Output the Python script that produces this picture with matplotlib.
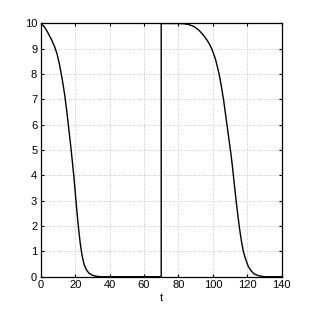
import matplotlib
matplotlib.use("Agg")
import matplotlib.pyplot as plt

# first decay
t_first = [0, 2, 4, 6, 8, 9.5, 11, 12.5, 14, 15.2, 16.3, 17.3, 18.3, 19.2, 20.1,
           21, 22, 23, 24, 25.2, 26.5, 28, 30, 32, 34.5, 70]
v_first = [10, 9.88, 9.66, 9.4, 9.1, 8.8, 8.35, 7.8, 7.15, 6.5, 5.85, 5.25, 4.6, 4.0, 3.3,
           2.6, 1.9, 1.3, 0.85, 0.48, 0.28, 0.14, 0.06, 0.02, 0, 0]

# second decay after the reset at t = 70
t_second = [70, 80, 83, 86, 89, 92, 95, 97.5, 99.5, 101.5, 103.5, 105, 106.3, 107.5,
            108.5, 109.5, 110.5, 111.3, 112, 112.8, 113.6, 114.5, 115.4, 116.5, 117.7,
            119, 120.5, 122, 124, 126.5, 130, 140]
v_second = [10, 10, 9.99, 9.96, 9.88, 9.73, 9.5, 9.25, 8.98, 8.6, 8.05, 7.5, 6.95, 6.35,
            5.85, 5.35, 4.85, 4.4, 3.95, 3.45, 2.95, 2.45, 1.95, 1.45, 1.0,
            0.7, 0.42, 0.25, 0.11, 0.04, 0, 0]

x_ticks = [0, 20, 40, 60, 80, 100, 120, 140]
y_ticks = [0, 1, 2, 3, 4, 5, 6, 7, 8, 9, 10]

plt.rcParams['font.family'] = ['Liberation Sans', 'DejaVu Sans']

fig = plt.figure(figsize=(3.11, 3.12), dpi=100)
ax = fig.add_axes([0.1309, 0.1131, 0.7749, 0.8116])

ax.plot(t_first + t_second, v_first + v_second, color='black', lw=1.0)

ax.set_xlim(0, 140)
ax.set_ylim(0, 10)
ax.set_xticks(x_ticks)
ax.set_yticks(y_ticks)
ax.grid(True, linestyle=(0, (1, 2)), color='#b0b0b0', lw=0.6)
ax.tick_params(direction='in', length=2.5, width=0.8, labelsize=8,
               top=True, right=True, pad=2.5)
for s in ax.spines.values():
    s.set_linewidth(0.9)
ax.set_xlabel('t', fontsize=8, labelpad=2)

fig.savefig('out.png', dpi=100)
